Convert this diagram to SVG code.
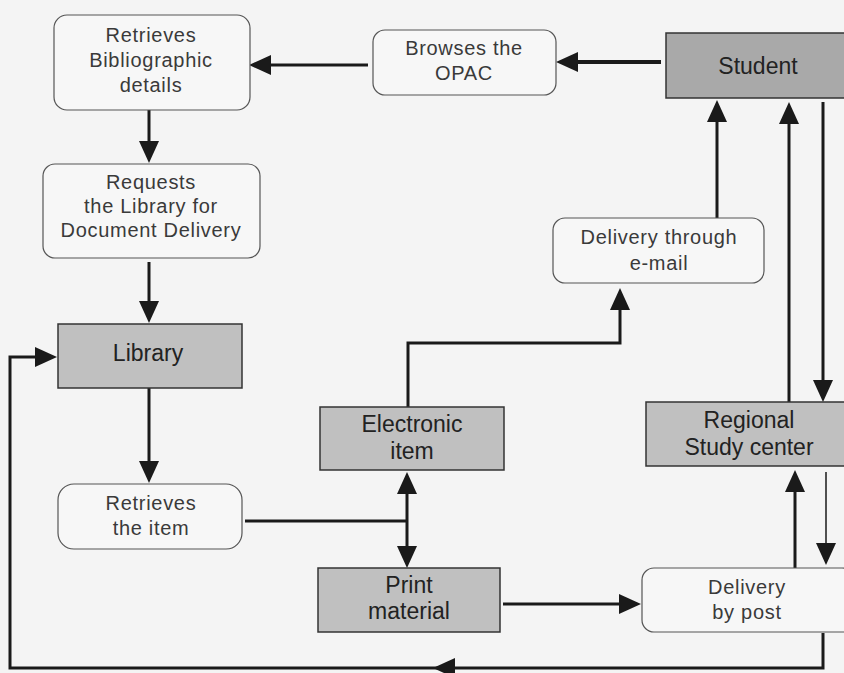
<svg xmlns="http://www.w3.org/2000/svg" width="844" height="673" viewBox="0 0 844 673">
<style>
.bg{fill:#f4f4f4}
.soft{fill:#f7f7f7;stroke:#555;stroke-width:1.2}
.hard{fill:#c0c0c0;stroke:#333;stroke-width:1.5}
.dark{fill:#a9a9a9;stroke:#333;stroke-width:1.5}
.t{font-family:"Liberation Sans",Arial,sans-serif;font-size:20px;fill:#3a3a3a;text-anchor:middle;letter-spacing:0.7px}
.b{font-family:"Liberation Sans",Arial,sans-serif;font-size:23px;fill:#222;text-anchor:middle}
.c{fill:none;stroke:#1a1a1a;stroke-width:3;stroke-linejoin:miter}
.thick{stroke-width:4}
.thin{stroke-width:1.5}
</style>
<defs>
<marker id="ah" markerUnits="userSpaceOnUse" markerWidth="22" markerHeight="20" viewBox="0 0 22 20" refX="16" refY="10" orient="auto">
<path d="M0,0 L22,10 L0,20 z" fill="#1a1a1a"/>
</marker>
</defs>
<rect class="bg" x="0" y="0" width="844" height="673"/>
<g id="connectors">
<path class="c thick" d="M661,62 L562,62" marker-end="url(#ah)"/>
<path class="c" d="M368,65 L255,65" marker-end="url(#ah)"/>
<path class="c" d="M149,110 L149,157" marker-end="url(#ah)"/>
<path class="c" d="M149,262 L149,317" marker-end="url(#ah)"/>
<path class="c" d="M149,388 L149,477" marker-end="url(#ah)"/>
<path class="c" d="M245,521 L407,521"/>
<path class="c" d="M407,521 L407,478" marker-end="url(#ah)"/>
<path class="c" d="M407,521 L407,562" marker-end="url(#ah)"/>
<path class="c" d="M408,407 L408,343 L620,343 L620,294" marker-end="url(#ah)"/>
<path class="c" d="M717,218 L717,106" marker-end="url(#ah)"/>
<path class="c" d="M789,402 L789,108" marker-end="url(#ah)"/>
<path class="c" d="M823,102 L823,396" marker-end="url(#ah)"/>
<path class="c" d="M503,604 L635,604" marker-end="url(#ah)"/>
<path class="c" d="M795,568 L795,476" marker-end="url(#ah)"/>
<path class="c thin" d="M826,472 L826,559" marker-end="url(#ah)"/>
<path class="c" d="M823,633 L823,668 L439,668" marker-end="url(#ah)"/>
<path class="c" d="M440,668 L10,668 L10,357 L51,357" marker-end="url(#ah)"/>
</g>
<g id="student"><rect class="dark" x="666" y="33" width="190" height="65"/><text class="b" x="758" y="74">Student</text></g>
<g id="browses"><rect class="soft" x="373" y="30" width="183" height="65" rx="12"/><text class="t" x="464" y="55">Browses the</text><text class="t" x="464" y="80">OPAC</text></g>
<g id="retrieves-biblio"><rect class="soft" x="54" y="15" width="196" height="95" rx="13"/><text class="t" x="151" y="42">Retrieves</text><text class="t" x="151" y="67">Bibliographic</text><text class="t" x="151" y="92">details</text></g>
<g id="requests"><rect class="soft" x="43" y="164" width="217" height="94" rx="12"/><text class="t" x="151" y="189">Requests</text><text class="t" x="151" y="213">the Library for</text><text class="t" x="151" y="237">Document Delivery</text></g>
<g id="library"><rect class="hard" x="58" y="324" width="184" height="64"/><text class="b" x="148" y="361">Library</text></g>
<g id="retrieves-item"><rect class="soft" x="58" y="484" width="184" height="65" rx="16"/><text class="t" x="151" y="510">Retrieves</text><text class="t" x="151" y="535">the item</text></g>
<g id="electronic"><rect class="hard" x="320" y="407" width="184" height="63"/><text class="b" x="412" y="432">Electronic</text><text class="b" x="412" y="459">item</text></g>
<g id="print"><rect class="hard" x="318" y="568" width="182" height="64"/><text class="b" x="409" y="593">Print</text><text class="b" x="409" y="619">material</text></g>
<g id="email"><rect class="soft" x="553" y="218" width="211" height="65" rx="12"/><text class="t" x="659" y="244">Delivery through</text><text class="t" x="659" y="270">e-mail</text></g>
<g id="regional"><rect class="hard" x="646" y="402" width="210" height="64"/><text class="b" x="749" y="428">Regional</text><text class="b" x="749" y="455">Study center</text></g>
<g id="post"><rect class="soft" x="642" y="568" width="212" height="64" rx="12"/><text class="t" x="747" y="594">Delivery</text><text class="t" x="747" y="619">by post</text></g>
</svg>
